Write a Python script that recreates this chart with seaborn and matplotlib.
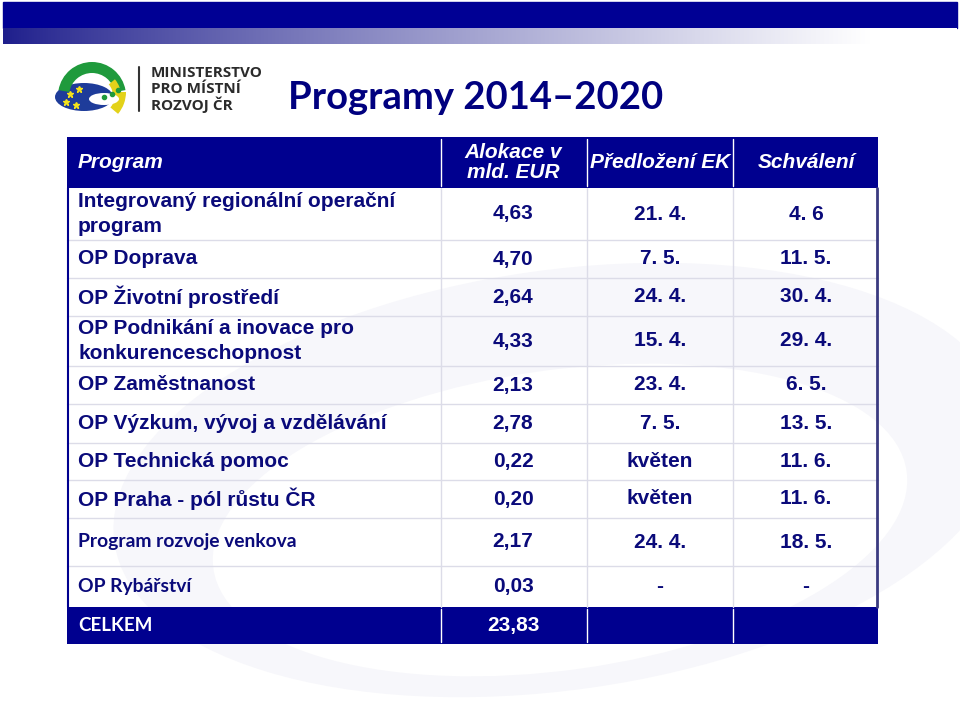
import numpy as np
import matplotlib
matplotlib.use("Agg")
import matplotlib.pyplot as plt
import seaborn as sns
from matplotlib.patches import Rectangle, Ellipse, Wedge

# ---------------- data ----------------
title = "Programy 2014\u20132020"
headers = ["Program", "Alokace v\nmld. EUR", "Předložení EK", "Schválení"]
programs = [
    "Integrovaný regionální operační\nprogram",
    "OP Doprava",
    "OP Životní prostředí",
    "OP Podnikání a inovace pro\nkonkurenceschopnost",
    "OP Zaměstnanost",
    "OP Výzkum, vývoj a vzdělávání",
    "OP Technická pomoc",
    "OP Praha - pól růstu ČR",
    "Program rozvoje venkova",
    "OP Rybářství",
]
allocations = ["4,63", "4,70", "2,64", "4,33", "2,13", "2,78", "0,22", "0,20", "2,17", "0,03"]
submitted = ["21. 4.", "7. 5.", "24. 4.", "15. 4.", "23. 4.", "7. 5.", "květen", "květen", "24. 4.", "-"]
approved = ["4. 6", "11. 5.", "30. 4.", "29. 4.", "6. 5.", "13. 5.", "11. 6.", "11. 6.", "18. 5.", "-"]
total_label = "CELKEM"
total_value = "23,83"
ministry = ["MINISTERSTVO", "PRO MÍSTNÍ", "ROZVOJ ČR"]

# ---------------- layout ----------------
sns.set_theme(style="white")
plt.rcParams["font.family"] = ["Liberation Sans", "DejaVu Sans"]

NAVY = "#00008f"
TXT = "#0a0a7a"
GRID = "#dcdce8"

fig = plt.figure(figsize=(9.6, 7.16), dpi=100)
ax = fig.add_axes([0, 0, 1, 1])
ax.set_xlim(0, 960)
ax.set_ylim(716, 0)
ax.axis("off")

# top bars
ax.add_patch(Rectangle((3, 2), 954, 26, color="#000094", zorder=1))
grad = np.linspace(0, 1, 400)
c0 = np.array([30, 30, 140]) / 255.0
c1 = np.array([1.0, 1.0, 1.0])
g = np.clip(grad * 1.1, 0, 1) ** 0.85
img = (c0[None, :] * (1 - g[:, None]) + c1[None, :] * g[:, None])[None, :, :]
ax.imshow(img, extent=[3, 957, 44, 28], aspect="auto", zorder=1)

# very faint background watermark
ax.add_patch(Ellipse((560, 480), 900, 420, angle=-8, facecolor="#f7f7fb",
                     edgecolor="none", zorder=0))
ax.add_patch(Ellipse((560, 520), 700, 300, angle=-8, facecolor="white",
                     edgecolor="none", zorder=0))

# logo (simplified)
ax.add_patch(Ellipse((84, 97), 58, 28, facecolor="#1e3c9a", edgecolor="none", zorder=2))
ax.add_patch(Wedge((92, 96), 34, 190, 350, width=11, facecolor="#1f9a3c", edgecolor="none", zorder=3))
ax.add_patch(Wedge((92, 92), 34, 0, 40, width=10, facecolor="#e3d21a", edgecolor="none", zorder=3))
ax.add_patch(Wedge((95, 96), 26, 320, 360, width=8, facecolor="#e3d21a", edgecolor="none", zorder=3))
ax.add_patch(Ellipse((104, 99), 30, 12, facecolor="white", edgecolor="none", zorder=3))
for (sx, sy) in [(70, 94), (79, 89), (66, 102), (76, 105)]:
    ax.plot(sx, sy, marker="*", color="#f3e21b", markersize=5, zorder=4)
for (sx, sy) in [(104, 97), (112, 94), (118, 90)]:
    ax.plot(sx, sy, marker="o", color="#1f9a3c", markersize=3, zorder=4)
ax.plot([139, 139], [67, 111], color="#333333", lw=1.5, zorder=2)
for i, t in enumerate(ministry):
    ax.text(151, 73 + i * 16, t, fontsize=11, fontweight="bold", color="#2b2b2b",
            family=["Open Sans", "DejaVu Sans"], va="center", ha="left", zorder=3)

# title
ax.text(288, 98, title, fontsize=27.5, fontweight="bold", color="#00007f",
        family=["Lato", "DejaVu Sans"], va="center", ha="left")

# table geometry
x_left, x_right = 67, 878
col_x = [x_left, 441, 587, 733, x_right]
row_y = [137, 188, 240, 278, 316, 366, 404, 443, 480, 518, 566, 607, 644]
col_centers = [78, 513, 660, 806]

# header & footer fills
ax.add_patch(Rectangle((x_left, row_y[0]), x_right - x_left, row_y[1] - row_y[0],
                       facecolor=NAVY, edgecolor="none", zorder=2))
ax.add_patch(Rectangle((x_left, row_y[-2]), x_right - x_left, row_y[-1] - row_y[-2],
                       facecolor=NAVY, edgecolor="none", zorder=2))

# body grid lines
for y in row_y[2:-2]:
    ax.plot([x_left, x_right], [y, y], color=GRID, lw=1, zorder=2)
for x in col_x[1:-1]:
    ax.plot([x, x], [row_y[1], row_y[-2]], color=GRID, lw=1, zorder=2)
    ax.plot([x, x], [row_y[0] + 2, row_y[1] - 2], color="white", lw=1, zorder=3)
    ax.plot([x, x], [row_y[-2] + 2, row_y[-1] - 2], color="white", lw=1, zorder=3)
ax.plot([x_left + 1, x_left + 1], [row_y[1], row_y[-2]], color=NAVY, lw=1.5, zorder=3)
ax.plot([x_right - 1, x_right - 1], [row_y[1], row_y[-2]], color="#3a3a80", lw=2, zorder=3)

# header text
hdr_kw = dict(color="white", fontsize=15, fontweight="bold", style="italic", va="center", zorder=4)
hy = (row_y[0] + row_y[1]) / 2
ax.text(col_centers[0], hy, headers[0], ha="left", **hdr_kw)
ax.text(col_centers[1], hy, headers[1], ha="center", linespacing=1.05, **hdr_kw)
ax.text(col_centers[2], hy, headers[2], ha="center", **hdr_kw)
ax.text(col_centers[3], hy, headers[3], ha="center", **hdr_kw)

# body text
for i in range(len(programs)):
    yc = (row_y[i + 1] + row_y[i + 2]) / 2
    if i >= 8:
        ax.text(col_centers[0], yc, programs[i], ha="left", va="center", fontsize=13.9,
                fontweight="bold", color=TXT, family=["Lato", "DejaVu Sans"], zorder=4)
    else:
        ax.text(col_centers[0], yc, programs[i], ha="left", va="center", fontsize=15,
                fontweight="bold", color=TXT, linespacing=1.4, zorder=4)
    for j, vals in enumerate([allocations, submitted, approved]):
        ax.text(col_centers[j + 1], yc, vals[i], ha="center", va="center", fontsize=15,
                fontweight="bold", color=TXT, zorder=4)

# footer
fy = (row_y[-2] + row_y[-1]) / 2
ax.text(col_centers[0], fy, total_label, ha="left", va="center", fontsize=13.5,
        fontweight="bold", color="white", family=["Lato", "DejaVu Sans"], zorder=4)
ax.text(col_centers[1], fy, total_value, ha="center", va="center", fontsize=15,
        fontweight="bold", color="white", zorder=4)

fig.savefig("out.png", dpi=100)
